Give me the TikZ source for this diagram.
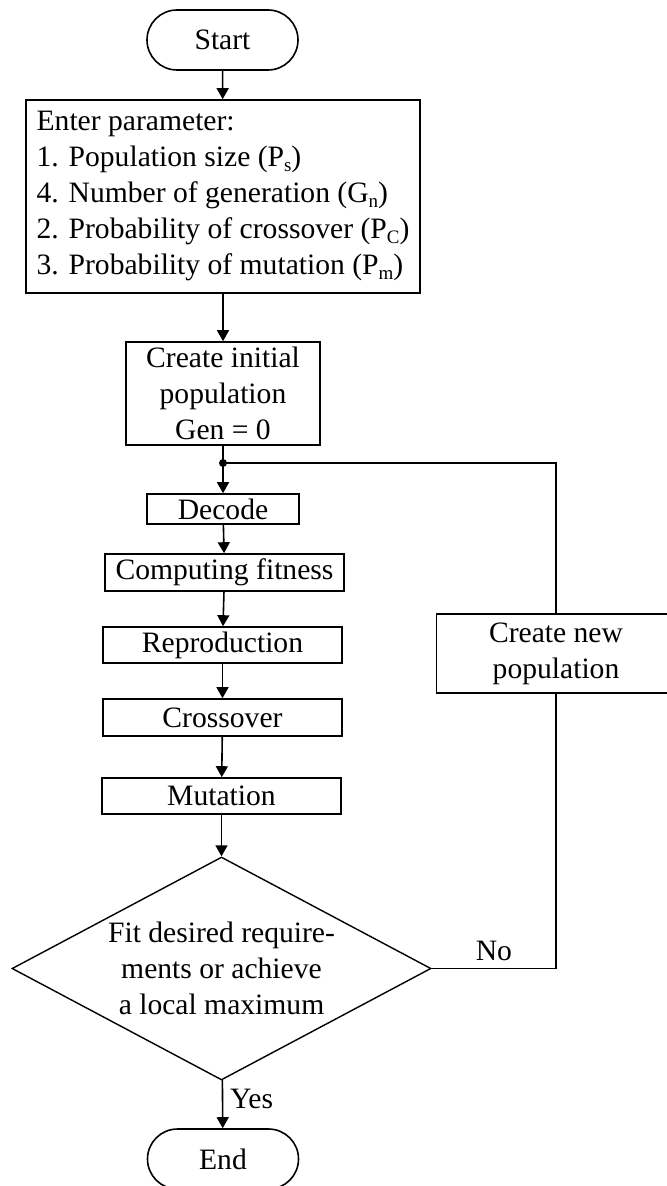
\documentclass[tikz,border=0pt]{standalone}
\usepackage{fontspec}
\setmainfont{Liberation Serif}
\usetikzlibrary{arrows.meta,shapes.geometric,positioning}

% small lowered index letters, as in P_s
\newcommand{\subtxt}[1]{\raisebox{-0.3ex}{\fontsize{9.5}{9.5}\selectfont #1}}

\tikzset{
  stepbox/.style={draw,line width=0.8pt,minimum width=119.5pt,inner sep=0pt,align=center},
  terminal/.style={draw,line width=0.8pt,rounded corners=15pt,minimum width=75.5pt,minimum height=30pt},
  decision/.style={draw,diamond,line width=0.7pt,aspect=1.88,inner sep=0pt,
    minimum width=209.5pt,minimum height=111.5pt,align=center},
  flow/.style={->,line width=0.8pt},
  loop/.style={line width=0.7pt}
}

\begin{document}
\begin{tikzpicture}[x=0.5pt,y=-0.5pt,font=\fontsize{14.8}{18}\selectfont,
  >={Triangle[length=5.5pt,width=6pt]}]
\useasboundingbox (0,0) rectangle (667,1186);

% Start and parameters
\node[terminal] (start) at (222.5,40) {Start};
\node[stepbox,align=left,minimum width=197pt,minimum height=96.5pt] (param) at (223,196.5)
  {Enter parameter:\\
   1. Population size (P\subtxt{s})\\
   4. Number of generation (G\subtxt{n})\\
   2. Probability of crossover (P\subtxt{C})\\
   3. Probability of mutation (P\subtxt{m})};
\node[stepbox,minimum width=97pt,minimum height=51.5pt] (init) at (223,393.5)
  {Create initial\\population\\Gen = 0};

% Main loop
\coordinate (join) at (223,463);
\node[stepbox,minimum width=76pt,minimum height=15pt] (decode) at (223,509) {Decode};
\node[stepbox,minimum height=18.5pt] (fitness) at (224.5,572.5) {Computing fitness};
\node[stepbox,minimum height=18pt] (repro) at (222.5,645) {Reproduction};
\node[stepbox,minimum height=18.5pt] (cross) at (222.5,717.5) {Crossover};
\node[stepbox,minimum height=18pt] (mutate) at (221.5,796) {Mutation};
\node[decision] (check) at (221.5,968.5) {Fit desired require-\\ments or achieve\\a local maximum};
\node[terminal] (end) at (223,1159) {End};
\node[stepbox,minimum height=39.5pt] (newpop) at (556,653.5) {Create new\\population};

% Connect the steps
\draw[flow] (start) -- (param);
\draw[flow] (param) -- (init);
\draw[line width=0.8pt] (init) -- (join);
\draw[flow] (join) -- (decode);
\draw[flow] (decode) -- (fitness);
\draw[flow] (fitness) -- (repro);
\draw[flow] (repro) -- (cross);
\draw[flow] (cross) -- (mutate);
\draw[flow] (mutate) -- (check);
\draw[flow] (check) -- node[right,pos=0.4] {Yes} (end);

% Back to the start of the loop
\draw[loop] (check.east) -- node[above] {No} (check.east -| newpop) -- (newpop);
\draw[loop] (newpop) |- (join);
\fill (join) circle (2pt);
\end{tikzpicture}
\end{document}
